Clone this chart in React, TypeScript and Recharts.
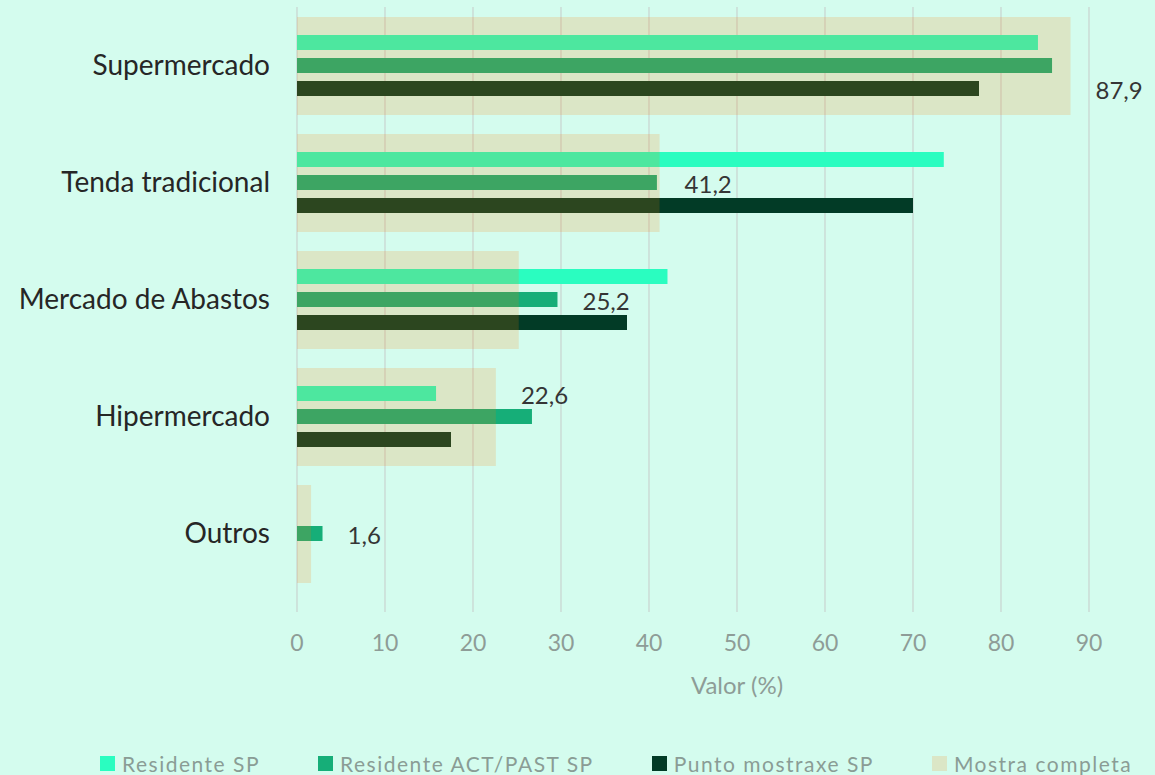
import { BarChart, Bar, XAxis, YAxis, CartesianGrid, Legend, LabelList } from "recharts";

// Canles de compra (%) segundo o tipo de persoa enquisada
const categories = ["Supermercado", "Tenda tradicional", "Mercado de Abastos", "Hipermercado", "Outros"];
const residenteSP = [84.2, 73.5, 42.1, 15.8, null];
const residenteACT = [85.8, 40.9, 29.6, 26.7, 2.9];
const puntoMostraxe = [77.5, 70.0, 37.5, 17.5, null];
const mostraCompleta = [87.9, 41.2, 25.2, 22.6, 1.6];
const valueTicks = [0, 10, 20, 30, 40, 50, 60, 70, 80, 90];
const seriesNames = ["Residente SP", "Residente ACT/PAST SP", "Punto mostraxe SP", "Mostra completa"];

const data = categories.map((name, i) => ({
  name,
  sp: residenteSP[i],
  act: residenteACT[i],
  punto: puntoMostraxe[i],
  total: mostraCompleta[i],
}));

const FONT = "Lato, 'Open Sans', sans-serif";
const BG = "#d4fcee";
const THIN = 15;
const GAP = 8;
const OVERLAY = "#ff7a00";
const OVERLAY_OPACITY = 0.17;

const fmt = (v: number) => v.toFixed(1).replace(".", ",");

// the total label sits beside the shortest of the three thin bars
const renderTotalLabel = (props: any) => {
  const vb = props.viewBox ?? props;
  const { x, y, width, height } = vb;
  const i = typeof props.index === "number" ? props.index : mostraCompleta.indexOf(Number(props.value));
  const total = mostraCompleta[i];
  const rows = [residenteSP[i], residenteACT[i], puntoMostraxe[i]];
  let row = 1;
  let best = Infinity;
  rows.forEach((v, r) => {
    if (v != null && v < best) {
      best = v;
      row = r;
    }
  });
  if (best === Infinity) best = total;
  const perUnit = width / total;
  const endX = x + Math.max(total, best) * perUnit;
  const cy = y + height / 2 + (row - 1) * (THIN + GAP);
  return (
    <text
      x={endX + 25}
      y={cy}
      dominantBaseline="central"
      fill="#353535"
      fontSize={24}
      fontFamily={FONT}
    >
      {fmt(total)}
    </text>
  );
};

const renderLegend = (props: any) => {
  const items = [...(props.payload || [])].sort(
    (a: any, b: any) => seriesNames.indexOf(a.value) - seriesNames.indexOf(b.value)
  );
  return (
    <div style={{ display: "flex", paddingLeft: 100, height: 24, alignItems: "center" }}>
      {items.map((it: any) => (
        <div key={it.value} style={{ display: "flex", alignItems: "center", marginRight: 58 }}>
          <div style={{ width: 15, height: 15, background: BG, marginRight: 7, position: "relative" }}>
            <div
              style={{
                position: "absolute",
                inset: 0,
                background: it.color,
                opacity: it.value === "Mostra completa" ? OVERLAY_OPACITY : 1,
              }}
            />
          </div>
          <span style={{ fontFamily: FONT, fontSize: 21, color: "#8a9c95", letterSpacing: 1.5, whiteSpace: "nowrap" }}>
            {it.value}
          </span>
        </div>
      ))}
    </div>
  );
};

export default function App() {
  return (
    <div
      style={{
        position: "absolute",
        left: 0,
        top: 0,
        width: 1155,
        height: 775,
        overflow: "hidden",
        background: BG,
      }}
    >
      <BarChart
        width={1177}
        height={775}
        data={data}
        layout="vertical"
        margin={{ top: 7, right: 0, bottom: 0, left: 0 }}
        barGap={GAP}
      >
        <CartesianGrid horizontal={false} vertical stroke="#c6cbc9" yAxisId="main" />
        <XAxis
          type="number"
          domain={[0, 100]}
          ticks={valueTicks}
          interval={0}
          axisLine={false}
          tickLine={false}
          tickMargin={17}
          height={139}
          tick={{ fontSize: 23, fill: "#8e9c97", fontFamily: FONT }}
          label={{
            value: "Valor (%)",
            position: "insideTop",
            offset: 65,
            fill: "#8e9c97",
            fontSize: 24,
            fontFamily: FONT,
          }}
        />
        <YAxis
          yAxisId="main"
          type="category"
          dataKey="name"
          width={297}
          axisLine={false}
          tickLine={false}
          tickMargin={21}
          padding={{ top: 0, bottom: 20 }}
          tick={{ fontSize: 28, fill: "#262626", fontFamily: FONT }}
        />
        <YAxis yAxisId="back" type="category" dataKey="name" hide width={0} padding={{ top: 0, bottom: 20 }} />
        <Bar yAxisId="main" dataKey="sp" name="Residente SP" fill="#2afdc0" barSize={THIN} isAnimationActive={false} />
        <Bar yAxisId="main" dataKey="act" name="Residente ACT/PAST SP" fill="#16ae78" barSize={THIN} isAnimationActive={false} />
        <Bar yAxisId="main" dataKey="punto" name="Punto mostraxe SP" fill="#023b26" barSize={THIN} isAnimationActive={false} />
        <Bar
          yAxisId="back"
          dataKey="total"
          name="Mostra completa"
          fill={OVERLAY}
          fillOpacity={OVERLAY_OPACITY}
          barSize={98}
          isAnimationActive={false}
        >
          <LabelList dataKey="total" content={renderTotalLabel} />
        </Bar>
        <Legend verticalAlign="bottom" content={renderLegend} wrapperStyle={{ left: 0, width: 1155 }} />
      </BarChart>
    </div>
  );
}
